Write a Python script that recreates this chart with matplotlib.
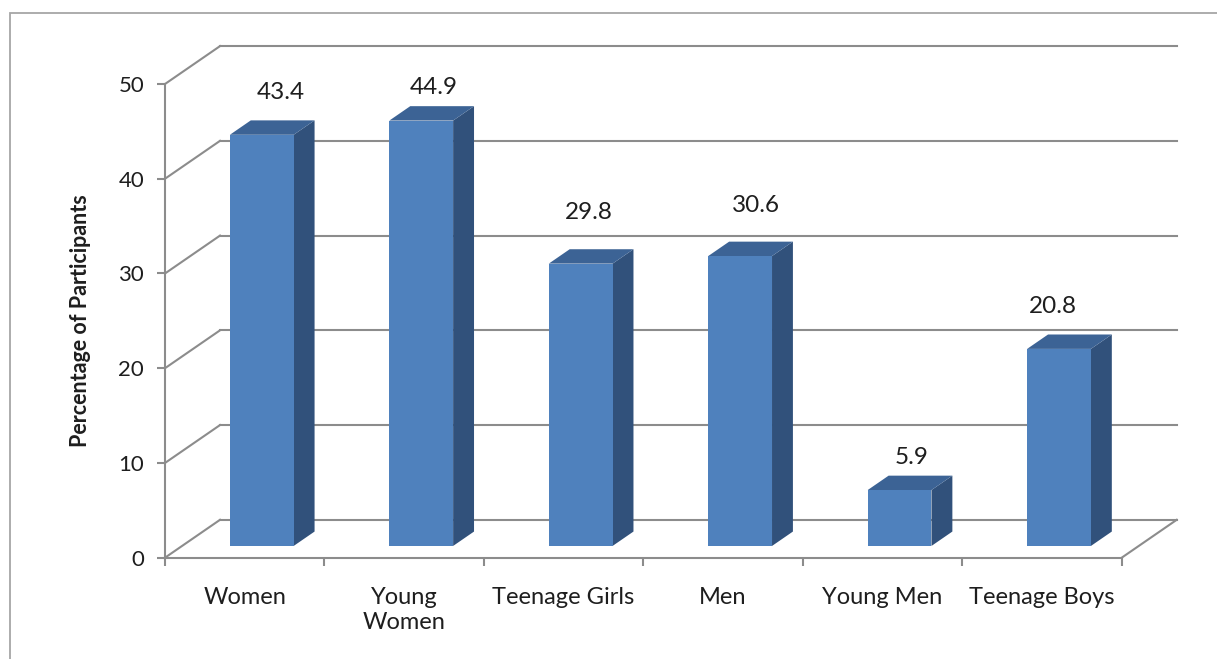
import matplotlib
matplotlib.use("Agg")
import matplotlib.pyplot as plt
from matplotlib.patches import Polygon, Rectangle

# ---- data ----
categories = ["Women", "Young\nWomen", "Teenage Girls", "Men", "Young Men", "Teenage Boys"]
percentages = [43.4, 44.9, 29.8, 30.6, 5.9, 20.8]
value_labels = ["43.4", "44.9", "29.8", "30.6", "5.9", "20.8"]
y_ticks = [0, 10, 20, 30, 40, 50]

# ---- 3-D look (oblique projection of the depth axis) ----
DX = 0.345      # depth shift in category units
DY = 4.0        # depth shift in value units
D0 = 0.31       # depth where the bar front faces sit
DD = 0.38       # bar depth
BAR_W = 0.40

FRONT = "#4F81BD"
TOP = "#3C6395"
SIDE = "#31517B"
GRID = "#8C8C8C"
TEXT = "#1E1E1E"

# label nudges (pixels) for the value labels
label_dx = [19, 12, 8, 16, 12, -6]
label_dy = [42, 33, 51, 51, 33, 42]

W, H = 1217, 659
fig = plt.figure(figsize=(W / 100, H / 100), dpi=100)
fig.patch.set_facecolor("white")

plt.rcParams["font.family"] = ["Lato", "DejaVu Sans"]

# outer chart-area frame
fig.patches.append(Rectangle((10 / W, -0.05), 1.2, 1 - 13 / H + 0.05,
                             transform=fig.transFigure, fill=False,
                             edgecolor="#A6A6A6", linewidth=1.3))

x0, x1 = 165, 1121.7
y0, y1 = 557.7, 84
ax = fig.add_axes([x0 / W, 1 - y0 / H, (x1 - x0) / W, (y0 - y1) / H])
n = len(categories)
ax.set_xlim(0, n)
ax.set_ylim(0, 50)
ax.patch.set_alpha(0)

for s in ("top", "right"):
    ax.spines[s].set_visible(False)
for s in ("left", "bottom"):
    ax.spines[s].set_color(GRID)
    ax.spines[s].set_linewidth(1.5)

# back wall gridlines and floor
for v in y_ticks:
    ax.plot([0, DX], [v, v + DY], color=GRID, lw=1.5, clip_on=False, zorder=1)
    ax.plot([DX, n + DX], [v + DY, v + DY], color=GRID, lw=1.5, clip_on=False, zorder=1)
ax.plot([n, n + DX], [0, DY], color=GRID, lw=1.5, clip_on=False, zorder=1)

# bars: front faces through ax.bar, top and side faces as polygons
centers = [i + 0.5 for i in range(n)]
fronts = [c + D0 * DX for c in centers]
base = D0 * DY
ax.bar(fronts, percentages, width=BAR_W, bottom=base, color=FRONT,
       edgecolor="none", zorder=4, clip_on=False)
for xc, v in zip(fronts, percentages):
    xl, xr = xc - BAR_W / 2, xc + BAR_W / 2
    top = base + v
    side = Polygon([(xr, base), (xr + DD * DX, base + DD * DY),
                    (xr + DD * DX, top + DD * DY), (xr, top)],
                   closed=True, facecolor=SIDE, edgecolor="none", zorder=3,
                   clip_on=False)
    lid = Polygon([(xl, top), (xr, top), (xr + DD * DX, top + DD * DY),
                   (xl + DD * DX, top + DD * DY)],
                  closed=True, facecolor=TOP, edgecolor="none", zorder=3,
                  clip_on=False)
    ax.add_patch(side)
    ax.add_patch(lid)

# value labels
for xc, v, lab, ddx, ddy in zip(fronts, percentages, value_labels, label_dx, label_dy):
    ax.annotate(lab, xy=(xc, base + v), xytext=(ddx, ddy),
                textcoords="offset pixels", ha="center", va="center",
                fontsize=17.5, color=TEXT, annotation_clip=False)

# axes ticks
ax.set_yticks(y_ticks)
ax.set_yticklabels([str(t) for t in y_ticks], fontsize=16, color=TEXT)
ax.tick_params(axis="y", direction="out", length=6, width=1.5, color=GRID, pad=9)

ax.set_xticks(centers)
ax.set_xticklabels(categories, fontsize=17, color=TEXT, linespacing=1.22)
ax.tick_params(axis="x", which="major", length=0, pad=21)
ax.set_xticks(range(n + 1), minor=True)
ax.tick_params(axis="x", which="minor", direction="out", length=6, width=1.5, color=GRID)

ax.text(-0.0888, 0.5, "Percentage of Participants", transform=ax.transAxes,
        rotation=90, ha="center", va="center", fontsize=15.5, fontweight="bold",
        color=TEXT)

fig.savefig("out.png", dpi=100, facecolor="white")
